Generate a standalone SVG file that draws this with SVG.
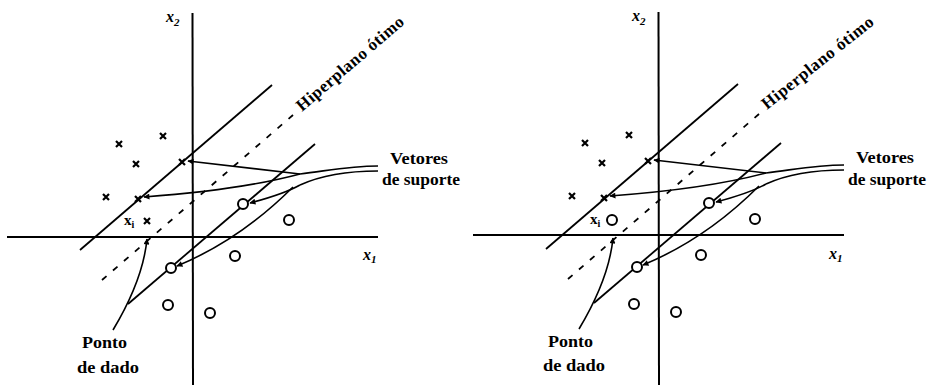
<svg xmlns="http://www.w3.org/2000/svg" width="929" height="385" viewBox="0 0 929 385">
<style>
.ax{stroke:#000;stroke-width:2;fill:none}
.mg{stroke:#000;stroke-width:1.8;fill:none}
.hp{stroke:#000;stroke-width:1.8;fill:none;stroke-dasharray:6 8.5}
.ld{stroke:#000;stroke-width:1.6;fill:none}
.ldm{stroke:#000;stroke-width:1.6;fill:none;marker-end:url(#ah)}
.cx{stroke:#000;stroke-width:2.2;fill:none}
.co{stroke:#000;stroke-width:2;fill:#fff}
.lb{font-family:"Liberation Serif","Times New Roman",serif;font-weight:bold;font-size:17px;fill:#000}
.axl{font-family:"Liberation Serif","Times New Roman",serif;font-style:italic;font-weight:bold;font-size:16px;fill:#000}
.sub{font-size:11px}
.xi{font-family:"Liberation Serif","Times New Roman",serif;font-weight:bold;font-size:15px;fill:#000}
</style>
<defs>
<marker id="ah" viewBox="0 0 10 10" refX="9" refY="5" markerWidth="8" markerHeight="6" orient="auto" markerUnits="userSpaceOnUse"><path d="M0,0L10,5L0,10z" fill="#000"/></marker>
<path id="cross" d="M-3,-3L3,3M-3,3L3,-3"/>
</defs>
<rect width="929" height="385" fill="#fff"/>

<g id="left-panel">
  <g id="left-axes">
    <line class="ax" x1="7" y1="237" x2="378" y2="237"/>
    <line class="ax" x1="192.5" y1="13" x2="193" y2="385"/>
    <text class="axl" x="166" y="22">x<tspan class="sub" dy="4">2</tspan></text>
    <text class="axl" x="363" y="260">x<tspan class="sub" dy="3">1</tspan></text>
  </g>
  <g id="left-margins">
    <line class="mg" x1="80" y1="250" x2="272" y2="85"/>
    <line class="hp" x1="102" y1="280" x2="293" y2="115"/>
    <line class="mg" x1="128" y1="304" x2="315" y2="144"/>
  </g>
  <g id="left-class1">
    <use href="#cross" class="cx" x="119" y="144"/>
    <use href="#cross" class="cx" x="163" y="136"/>
    <use href="#cross" class="cx" x="136" y="164"/>
    <use href="#cross" class="cx" x="106" y="197"/>
    <use href="#cross" class="cx" x="182" y="162"/>
    <use href="#cross" class="cx" x="138" y="199"/>
    <use href="#cross" class="cx" x="147" y="221"/>
  </g>
  <g id="left-class2">
    <circle class="co" cx="243" cy="204" r="5"/>
    <circle class="co" cx="289" cy="220" r="5"/>
    <circle class="co" cx="171" cy="268" r="5"/>
    <circle class="co" cx="235" cy="256" r="5"/>
    <circle class="co" cx="168" cy="305" r="5"/>
    <circle class="co" cx="210" cy="313" r="5"/>
  </g>
  <g id="left-connectors">
    <path class="ld" d="M378,166 C350,166 332,170 300,174"/>
    <path class="ldm" d="M300,174 L188,161"/>
    <path class="ldm" d="M300,174 Q240,190 144,197"/>
    <path class="ld" d="M378,171 C350,171 322,175 300,185"/>
    <path class="ldm" d="M300,185 Q284,194 250,203"/>
    <path class="ldm" d="M293,187 Q240,240 177,266"/>
    <path class="ldm" d="M113,330 Q143,280 147,239"/>
  </g>
  <g id="left-labels">
    <text class="xi" x="124" y="225">x<tspan font-size="10" dy="3">i</tspan></text>
    <text class="lb" transform="translate(302,112) rotate(-40.6)" textLength="136" lengthAdjust="spacing">Hiperplano ótimo</text>
    <text class="lb" x="390" y="164" textLength="58" lengthAdjust="spacingAndGlyphs">Vetores</text>
    <text class="lb" x="382" y="185" textLength="78" lengthAdjust="spacingAndGlyphs">de suporte</text>
    <text class="lb" x="82" y="348" textLength="45" lengthAdjust="spacingAndGlyphs">Ponto</text>
    <text class="lb" x="77" y="373" textLength="62" lengthAdjust="spacingAndGlyphs">de dado</text>
  </g>
</g>

<g id="right-panel" transform="translate(466,-1)">
  <g id="right-axes">
    <line class="ax" x1="7" y1="236" x2="378" y2="236"/>
    <line class="ax" x1="192.5" y1="13" x2="193" y2="386"/>
    <text class="axl" x="166" y="22">x<tspan class="sub" dy="4">2</tspan></text>
    <text class="axl" x="363" y="260">x<tspan class="sub" dy="3">1</tspan></text>
  </g>
  <g id="right-margins">
    <line class="mg" x1="80" y1="250" x2="272" y2="85"/>
    <line class="hp" x1="102" y1="280" x2="293" y2="115"/>
    <line class="mg" x1="128" y1="304" x2="315" y2="144"/>
  </g>
  <g id="right-class1">
    <use href="#cross" class="cx" x="119" y="144"/>
    <use href="#cross" class="cx" x="163" y="136"/>
    <use href="#cross" class="cx" x="136" y="164"/>
    <use href="#cross" class="cx" x="106" y="197"/>
    <use href="#cross" class="cx" x="182" y="162"/>
    <use href="#cross" class="cx" x="138" y="199"/>
  </g>
  <g id="right-class2">
    <circle class="co" cx="146" cy="221" r="5"/>
    <circle class="co" cx="243" cy="204" r="5"/>
    <circle class="co" cx="289" cy="220" r="5"/>
    <circle class="co" cx="171" cy="268" r="5"/>
    <circle class="co" cx="235" cy="256" r="5"/>
    <circle class="co" cx="168" cy="305" r="5"/>
    <circle class="co" cx="210" cy="313" r="5"/>
  </g>
  <g id="right-connectors">
    <path class="ld" d="M378,166 C350,166 332,170 300,174"/>
    <path class="ldm" d="M300,174 L188,161"/>
    <path class="ldm" d="M300,174 Q240,190 144,197"/>
    <path class="ld" d="M378,171 C350,171 322,175 300,185"/>
    <path class="ldm" d="M300,185 Q284,194 250,203"/>
    <path class="ldm" d="M293,187 Q240,240 177,266"/>
    <path class="ldm" d="M113,330 Q143,280 147,239"/>
  </g>
  <g id="right-labels">
    <text class="xi" x="124" y="225">x<tspan font-size="10" dy="3">i</tspan></text>
    <text class="lb" transform="translate(301,111) rotate(-38.6)" textLength="138" lengthAdjust="spacing">Hiperplano ótimo</text>
    <text class="lb" x="390" y="164" textLength="58" lengthAdjust="spacingAndGlyphs">Vetores</text>
    <text class="lb" x="382" y="186" textLength="78" lengthAdjust="spacingAndGlyphs">de suporte</text>
    <text class="lb" x="82" y="348" textLength="45" lengthAdjust="spacingAndGlyphs">Ponto</text>
    <text class="lb" x="77" y="372" textLength="62" lengthAdjust="spacingAndGlyphs">de dado</text>
  </g>
</g>
</svg>
